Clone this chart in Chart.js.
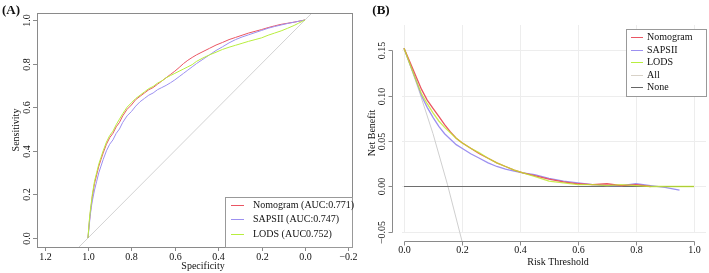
<!DOCTYPE html>
<html>
<head>
<meta charset="utf-8">
<script src="https://cdn.jsdelivr.net/npm/chart.js@4.4.1/dist/chart.umd.min.js"></script>
<style>
	html, body { margin: 0; padding: 0; background: #fff; }
	#wrap { position: relative; width: 709px; height: 273px; overflow: hidden; }
	#pa { position: absolute; left: 0; top: 0; }
	#pb { position: absolute; left: 354px; top: 0; }
</style>
</head>
<body>
<div id="wrap">
	<canvas id="pa" width="370" height="273"></canvas>
	<canvas id="pb" width="355" height="273"></canvas>
</div>
<script>

// (A) ROC curves: specificity / sensitivity pairs
const rocSpec = [1.00, 0.995, 0.99, 0.985, 0.98, 0.97, 0.96, 0.95, 0.94, 0.93, 0.915, 0.90, 0.885, 0.87, 0.855, 0.84, 0.82, 0.80, 0.78, 0.76, 0.74, 0.72, 0.70, 0.68, 0.66, 0.64, 0.62, 0.60, 0.58, 0.56, 0.54, 0.52, 0.50, 0.47, 0.44, 0.41, 0.38, 0.35, 0.32, 0.29, 0.26, 0.23, 0.20, 0.17, 0.14, 0.11, 0.08, 0.05, 0.03, 0.01, 0.00];
const nomoSens = [0.00, 0.06, 0.11, 0.15, 0.19, 0.25, 0.29, 0.33, 0.36, 0.39, 0.43, 0.46, 0.48, 0.51, 0.53, 0.56, 0.59, 0.61, 0.635, 0.65, 0.665, 0.68, 0.69, 0.705, 0.72, 0.735, 0.75, 0.765, 0.782, 0.80, 0.815, 0.828, 0.84, 0.855, 0.87, 0.885, 0.897, 0.91, 0.92, 0.93, 0.94, 0.948, 0.956, 0.965, 0.973, 0.98, 0.985, 0.99, 0.994, 0.998, 1.00];
const sapsSens = [0.00, 0.05, 0.10, 0.14, 0.17, 0.22, 0.26, 0.30, 0.33, 0.36, 0.40, 0.43, 0.45, 0.48, 0.50, 0.53, 0.56, 0.58, 0.605, 0.625, 0.64, 0.655, 0.665, 0.68, 0.69, 0.70, 0.712, 0.725, 0.74, 0.755, 0.77, 0.785, 0.80, 0.82, 0.84, 0.86, 0.877, 0.895, 0.91, 0.922, 0.932, 0.942, 0.952, 0.962, 0.97, 0.977, 0.984, 0.99, 0.994, 0.998, 1.00];
const lodsSens = [0.00, 0.07, 0.12, 0.16, 0.20, 0.26, 0.30, 0.34, 0.37, 0.40, 0.44, 0.47, 0.49, 0.52, 0.545, 0.57, 0.60, 0.62, 0.64, 0.655, 0.67, 0.685, 0.695, 0.71, 0.72, 0.735, 0.745, 0.755, 0.765, 0.775, 0.785, 0.795, 0.81, 0.826, 0.84, 0.852, 0.865, 0.875, 0.884, 0.893, 0.902, 0.91, 0.918, 0.93, 0.94, 0.95, 0.962, 0.975, 0.985, 0.995, 1.00];

const refSpec = [1.4, -0.4];
const refSens = [-0.4, 1.4];

const rocLabels = ['Nomogram (AUC:0.771)', 'SAPSII (AUC:0.747)', 'LODS (AUC0.752)'];
const rocTicksX = [1.2, 1.0, 0.8, 0.6, 0.4, 0.2, 0.0, -0.2];
const rocTicksY = [0.0, 0.2, 0.4, 0.6, 0.8, 1.0];

// (B) decision curves: threshold / net benefit
const dcaT = [0, 0.02, 0.04, 0.06, 0.08, 0.10, 0.12, 0.14, 0.16, 0.18, 0.20, 0.23, 0.26, 0.29, 0.32, 0.35, 0.38, 0.41, 0.45, 0.50, 0.55, 0.60, 0.65, 0.70, 0.75, 0.80, 0.85, 0.90, 0.95, 1.00];
const nomoNB = [0.152, 0.137, 0.122, 0.107, 0.095, 0.086, 0.077, 0.068, 0.060, 0.053, 0.048, 0.042, 0.036, 0.031, 0.026, 0.022, 0.018, 0.015, 0.012, 0.008, 0.005, 0.003, 0.002, 0.003, 0.001, 0.002, 0.000];
const sapsNB = [0.152, 0.135, 0.118, 0.100, 0.087, 0.076, 0.066, 0.058, 0.052, 0.046, 0.042, 0.036, 0.031, 0.026, 0.022, 0.019, 0.017, 0.015, 0.013, 0.009, 0.006, 0.004, 0.002, 0.001, 0.001, 0.003, 0.001, -0.001, -0.004];
const lodsNB = [0.152, 0.135, 0.118, 0.102, 0.091, 0.081, 0.072, 0.065, 0.059, 0.053, 0.048, 0.042, 0.037, 0.031, 0.026, 0.022, 0.018, 0.015, 0.011, 0.006, 0.004, 0.002, 0.002, 0.001, 0.002, 0.001, 0.000, 0.000, 0.000, 0.000];
const allT = [0, 0.05, 0.10, 0.15, 0.20, 0.25];
const allNB = [0.152, 0.107, 0.058, 0.002, -0.060, -0.131];
const noneT = [0, 1];
const noneNB = [0, 0];

const dcaLabels = ['Nomogram', 'SAPSII', 'LODS', 'All', 'None'];
const dcaTicksX = [0.0, 0.2, 0.4, 0.6, 0.8, 1.0];
const dcaTicksY = [-0.05, 0.00, 0.05, 0.10, 0.15];


const FONT = '"Liberation Serif", "Times New Roman", serif';
const RED = '#ea5563';
const PURPLE = '#9c90f0';
const GREEN = '#b8ee3e';


function pts(xs, ys) {
	return ys.map(function(y, i) { return {x: xs[i], y: y}; });
}

function fmt(v, d) {
	return v.toFixed(d).replace('-', '\u2212');
}

function label(ctx, str, x, y, rot, font) {
	ctx.save();
	ctx.font = font || ('10px ' + FONT);
	ctx.fillStyle = '#111';
	ctx.textAlign = 'center';
	ctx.textBaseline = 'middle';
	ctx.translate(x, y);
	if(rot) {
		ctx.rotate(-Math.PI / 2);
	}
	ctx.fillText(str, 0, 0);
	ctx.restore();
}

function seg(ctx, x1, y1, x2, y2) {
	ctx.beginPath();
	ctx.moveTo(x1, y1);
	ctx.lineTo(x2, y2);
	ctx.stroke();
}

function legend(ctx, box, rows, items) {
	ctx.save();
	ctx.fillStyle = '#fff';
	ctx.fillRect(box.x, box.y, box.w, box.h);
	ctx.strokeStyle = '#999';
	ctx.lineWidth = 1;
	ctx.strokeRect(box.x + 0.5, box.y + 0.5, box.w, box.h);
	items.forEach(function(it, i) {
		ctx.strokeStyle = it.color;
		ctx.lineWidth = 1;
		seg(ctx, rows.x1, rows.y[i] + 0.5, rows.x2, rows.y[i] + 0.5);
		ctx.font = '10px ' + FONT;
		ctx.fillStyle = '#111';
		ctx.textAlign = 'left';
		ctx.textBaseline = 'middle';
		ctx.fillText(it.text, rows.tx, rows.y[i] + 0.5);
	});
	ctx.restore();
}


// R style frame for the ROC panel
const rocFrame = {
	id: 'rocFrame',
	afterDraw(chart) {
		const ctx = chart.ctx;
		const a = chart.chartArea;
		const x = chart.scales.x;
		const y = chart.scales.y;

		ctx.save();
		ctx.strokeStyle = '#8a8a8a';
		ctx.lineWidth = 1;
		ctx.strokeRect(Math.round(a.left) + 0.5, Math.round(a.top) + 0.5, Math.round(a.right - a.left), Math.round(a.bottom - a.top));

		rocTicksX.forEach(function(v) {
			const px = Math.round(x.getPixelForValue(v)) + 0.5;
			seg(ctx, px, a.bottom, px, a.bottom + 4);
			label(ctx, fmt(v, 1), px, a.bottom + 10);
		});
		rocTicksY.forEach(function(v) {
			const py = Math.round(y.getPixelForValue(v)) + 0.5;
			seg(ctx, a.left, py, a.left - 4, py);
			label(ctx, fmt(v, 1), a.left - 10, py, true);
		});
		ctx.restore();

		label(ctx, 'Specificity', 203, 266);
		label(ctx, 'Sensitivity', 16, 130, true);
		label(ctx, '(A)', 11, 11, false, 'bold 13px ' + FONT);

		legend(ctx, {x: 225, y: 197, w: 127, h: 50}, {x1: 231, x2: 244, tx: 253, y: [205, 219, 234]}, [
			{text: rocLabels[0], color: RED},
			{text: rocLabels[1], color: PURPLE},
			{text: rocLabels[2], color: GREEN}
		]);
	}
};


// R style axes, grid and legend for the decision curve panel
const dcaFrame = {
	id: 'dcaFrame',
	beforeDatasetsDraw(chart) {
		const ctx = chart.ctx;
		const a = chart.chartArea;
		const x = chart.scales.x;
		const y = chart.scales.y;

		ctx.save();
		ctx.strokeStyle = '#ededed';
		ctx.lineWidth = 1;
		dcaTicksX.forEach(function(v) {
			const px = Math.round(x.getPixelForValue(v)) + 0.5;
			seg(ctx, px, a.top, px, a.bottom - 8);
		});
		dcaTicksY.forEach(function(v) {
			const py = Math.round(y.getPixelForValue(v)) + 0.5;
			seg(ctx, a.left + 10, py, a.right, py);
		});
		ctx.restore();
	},
	afterDraw(chart) {
		const ctx = chart.ctx;
		const a = chart.chartArea;
		const x = chart.scales.x;
		const y = chart.scales.y;

		ctx.save();
		ctx.strokeStyle = '#8a8a8a';
		ctx.lineWidth = 1;

		const x0 = Math.round(x.getPixelForValue(dcaTicksX[0])) + 0.5;
		const x1 = Math.round(x.getPixelForValue(dcaTicksX[dcaTicksX.length - 1])) + 0.5;
		const yb = Math.round(a.bottom) + 0.5;
		seg(ctx, x0, yb, x1, yb);
		dcaTicksX.forEach(function(v) {
			const px = Math.round(x.getPixelForValue(v)) + 0.5;
			seg(ctx, px, yb, px, yb + 4);
			label(ctx, fmt(v, 1), px, yb + 9);
		});

		const y0 = Math.round(y.getPixelForValue(dcaTicksY[0])) + 0.5;
		const y1 = Math.round(y.getPixelForValue(dcaTicksY[dcaTicksY.length - 1])) + 0.5;
		const xl = Math.round(a.left) + 0.5;
		seg(ctx, xl, y0, xl, y1);
		dcaTicksY.forEach(function(v) {
			const py = Math.round(y.getPixelForValue(v)) + 0.5;
			seg(ctx, xl, py, xl - 4, py);
			label(ctx, fmt(v, 2), xl - 10, py, true);
		});
		ctx.restore();

		label(ctx, 'Risk Threshold', 204, 262);
		label(ctx, 'Net Benefit', 18, 133, true);
		label(ctx, '(B)', 27, 11, false, 'bold 13px ' + FONT);

		legend(ctx, {x: 272, y: 29, w: 80, h: 67}, {x1: 277, x2: 289, tx: 293, y: [37, 50, 62, 75, 87]}, [
			{text: dcaLabels[0], color: RED},
			{text: dcaLabels[1], color: PURPLE},
			{text: dcaLabels[2], color: GREEN},
			{text: dcaLabels[3], color: '#d8d2c8'},
			{text: dcaLabels[4], color: '#666'}
		]);
	}
};


function line(data, label, color, width, order) {
	return {
		data: data,
		label: label,
		borderColor: color,
		borderWidth: width,
		showLine: true,
		pointRadius: 0,
		tension: 0,
		fill: false,
		order: order
	};
}

const baseOptions = {
	responsive: false,
	animation: false,
	events: [],
	plugins: {
		legend: {display: false},
		tooltip: {enabled: false}
	}
};


new Chart(document.getElementById('pa').getContext('2d'), {
	type: 'scatter',
	data: {
		datasets: [
			line(pts(refSpec, refSens), 'reference', '#d2d2d2', 1, 4),
			line(pts(rocSpec, nomoSens), rocLabels[0], RED, 1, 3),
			line(pts(rocSpec, sapsSens), rocLabels[1], PURPLE, 1, 2),
			line(pts(rocSpec, lodsSens), rocLabels[2], GREEN, 1, 1)
		]
	},
	options: Object.assign({}, baseOptions, {
		layout: {padding: {left: 37, right: 18, top: 13, bottom: 26}},
		scales: {
			x: {type: 'linear', display: false, reverse: true, min: -0.2166, max: 1.235},
			y: {type: 'linear', display: false, min: -0.0413, max: 1.032}
		}
	}),
	plugins: [rocFrame]
});


new Chart(document.getElementById('pb').getContext('2d'), {
	type: 'scatter',
	data: {
		datasets: [
			line(pts(allT, allNB), dcaLabels[3], '#cfcfcf', 1, 5),
			line(pts(noneT, noneNB), dcaLabels[4], '#6e6e6e', 1.2, 4),
			line(pts(dcaT, sapsNB), dcaLabels[1], PURPLE, 1.3, 3),
			line(pts(dcaT, nomoNB), dcaLabels[0], RED, 1.3, 2),
			line(pts(dcaT, lodsNB), dcaLabels[2], 'rgba(190, 230, 40, 0.8)', 1.3, 1)
		]
	},
	options: Object.assign({}, baseOptions, {
		layout: {padding: {left: 38, right: 3, top: 25, bottom: 32}},
		scales: {
			x: {type: 'linear', display: false, min: -0.0414, max: 1.0414},
			y: {type: 'linear', display: false, min: -0.0599, max: 0.1775}
		}
	}),
	plugins: [dcaFrame]
});

</script>
</body>
</html>
